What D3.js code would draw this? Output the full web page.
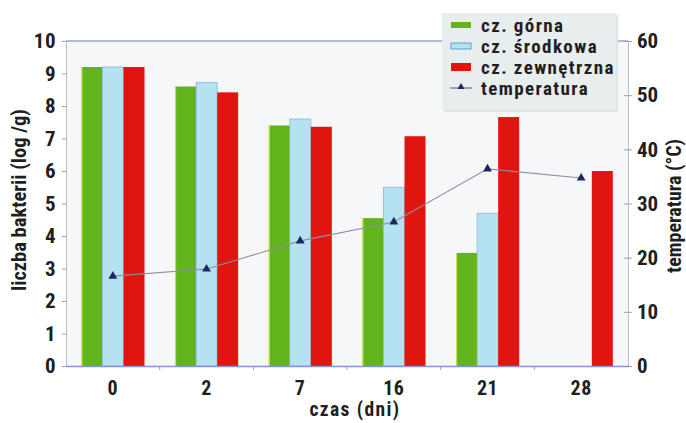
<!DOCTYPE html>
<html><head><meta charset="utf-8">
<script src="https://cdn.jsdelivr.net/npm/d3@7"></script>
<style>
body{margin:0;background:#fff;}
text{font-family:"Liberation Sans Narrow","Roboto Condensed","Liberation Sans",sans-serif;font-weight:bold;fill:#1f1f1f;}
</style></head><body>
<svg id="c" width="686" height="423"></svg>
<script>
const categories = ["0","2","7","16","21","28"];
const seriesNames = ["cz. górna","cz. środkowa","cz. zewnętrzna"];
const gorna = [9.2, 8.6, 7.4, 4.55, 3.48, null];
const srodkowa = [9.2, 8.72, 7.6, 5.5, 4.7, null];
const zewnetrzna = [9.2, 8.42, 7.36, 7.07, 7.66, 6.0];
const temperatura = [16.6, 17.9, 23.1, 26.6, 36.4, 34.7];
const leftTicks = [0,1,2,3,4,5,6,7,8,9,10];
const rightTicks = [0,10,20,30,40,50,60];
const colors = ["#62b41c","#b4e2f0","#e0150f"];

const svg = d3.select("#c");
const L=66, R=628, T=41, B=366;
const x = d3.scaleBand().domain(categories).range([L,R]).padding(0);
const xs = d3.scaleBand().domain([0,1,2]).range([15.5, 78.5]).padding(0);
const y = d3.scaleLinear().domain([0,10]).range([B,T]);
const y2 = d3.scaleLinear().domain([0,60]).range([B,T]);

svg.append("rect").attr("x",L).attr("y",T).attr("width",R-L).attr("height",B-T).attr("fill","#f6f7f8");
svg.append("line").attr("x1",L).attr("x2",R).attr("y1",T).attr("y2",T).attr("stroke","#6a7aae").attr("stroke-width",1.2);

const data = [gorna, srodkowa, zewnetrzna];
categories.forEach((c,i)=>{
  data.forEach((s,j)=>{
    if(s[i]==null) return;
    const bx = x(c)+xs(j);
    svg.append("rect").attr("x",bx).attr("y",y(s[i])).attr("width",xs.bandwidth()).attr("height",B-y(s[i]))
      .attr("fill",colors[j]).attr("stroke", j==1?"#8fb4d8":"none").attr("stroke-width",0.8);
    if(j==0) svg.append("line").attr("x1",bx+0.5).attr("x2",bx+0.5).attr("y1",y(s[i])).attr("y2",B).attr("stroke","#d8e24a").attr("stroke-width",1);
  });
});

const fs = 21;
const gl = svg.append("g").attr("transform",`translate(${L},0)`)
  .call(d3.axisLeft(y).tickValues(leftTicks).tickSize(4).tickPadding(6).tickFormat(d3.format("d")));
gl.select(".domain").attr("stroke","#b8bcc4");
gl.selectAll(".tick line").attr("stroke","#9aa0aa");
gl.selectAll(".tick text").attr("font-size",fs).attr("fill","#1f1f1f").attr("letter-spacing",0.5);

const gr = svg.append("g").attr("transform",`translate(${R},0)`)
  .call(d3.axisRight(y2).tickValues(rightTicks).tickSize(4).tickPadding(5).tickFormat(d3.format("d")));
gr.select(".domain").attr("stroke","#b8bcc4");
gr.selectAll(".tick line").attr("stroke","#9aa0aa").attr("x1",-4);
gr.selectAll(".tick text").attr("font-size",fs).attr("fill","#1f1f1f");

const gb = svg.append("g").attr("transform",`translate(0,${B})`)
  .call(d3.axisBottom(x).tickSize(0).tickPadding(15));
gb.select(".domain").attr("stroke","#8d90cf").attr("stroke-width",1.5);
gb.selectAll(".tick text").attr("font-size",20).attr("fill","#1f1f1f").attr("letter-spacing",0.5);
categories.slice(1).forEach(c=>{
  svg.append("line").attr("x1",x(c)).attr("x2",x(c)).attr("y1",B).attr("y2",B+4).attr("stroke","#9aa0aa");
});

const line = d3.line().x((d,i)=>x(categories[i])+x.bandwidth()/2).y(d=>y2(d));
svg.append("path").datum(temperatura).attr("d",line).attr("fill","none").attr("stroke","#8c919c").attr("stroke-width",1.1);
const tri = d3.symbol().type(d3.symbolTriangle).size(34);
temperatura.forEach((d,i)=>{
  svg.append("path").attr("d",tri).attr("transform",`translate(${x(categories[i])+x.bandwidth()/2},${y2(d)})`).attr("fill","#1c2660");
});

svg.append("text").attr("transform","translate(26,200) rotate(-90)").attr("text-anchor","middle").attr("font-size",20.5).text("liczba bakterii (log /g)");
svg.append("text").attr("transform","translate(681,206) rotate(-90)").attr("text-anchor","middle").attr("font-size",20).text("temperatura (°C)");
svg.append("text").attr("x",355).attr("y",416).attr("text-anchor","middle").attr("font-size",19.5).attr("letter-spacing",1.4).text("czas (dni)");

const lg = svg.append("g");
lg.append("rect").attr("x",444).attr("y",15).attr("width",174).attr("height",97).attr("fill","#dfe5e6");
lg.append("rect").attr("x",442).attr("y",13).attr("width",174).attr("height",97).attr("fill","#e8eded");
const rowsY=[25,46,67,88];
const legendItems = seriesNames.concat(["temperatura"]);
legendItems.forEach((n,i)=>{
  const yy = rowsY[i];
  if(i<3){
    lg.append("rect").attr("x",451).attr("y",yy-(i==2?4:3)).attr("width",20).attr("height",i==2?8:6).attr("fill",colors[i]).attr("stroke",i==1?"#5aa6d6":"none");
  } else {
    lg.append("line").attr("x1",450).attr("x2",472).attr("y1",yy).attr("y2",yy).attr("stroke","#4a5590").attr("stroke-width",1);
    lg.append("path").attr("d",d3.symbol().type(d3.symbolTriangle).size(22)).attr("transform",`translate(461,${yy-1})`).attr("fill","#1c2660");
  }
  lg.append("text").attr("x",481).attr("y",yy+7).attr("font-size",19).attr("letter-spacing",1.4).text(n);
});
</script>
</body></html>
